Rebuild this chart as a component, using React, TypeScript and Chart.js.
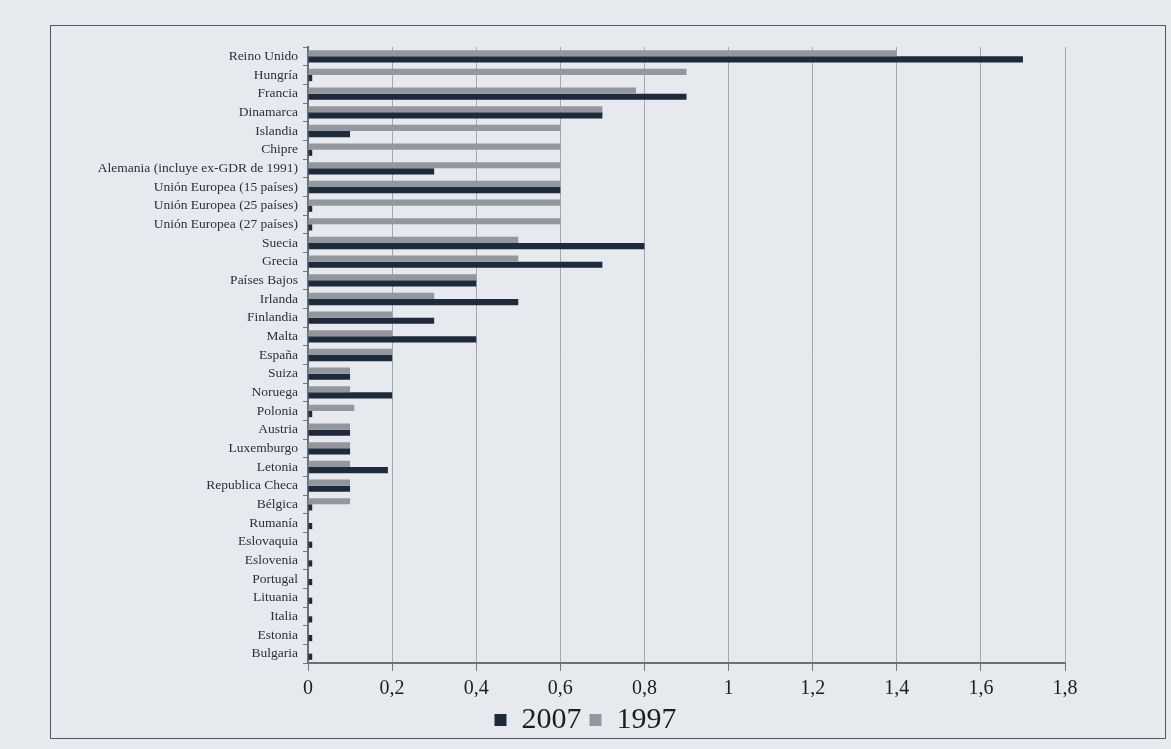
import React, { useEffect, useRef } from "react";
import { Chart, registerables } from "chart.js";

Chart.register(...registerables);

const categories = [
  "Reino Unido",
  "Hungría",
  "Francia",
  "Dinamarca",
  "Islandia",
  "Chipre",
  "Alemania (incluye ex-GDR de 1991)",
  "Unión Europea (15 países)",
  "Unión Europea (25 países)",
  "Unión Europea (27 países)",
  "Suecia",
  "Grecia",
  "Países Bajos",
  "Irlanda",
  "Finlandia",
  "Malta",
  "España",
  "Suiza",
  "Noruega",
  "Polonia",
  "Austria",
  "Luxemburgo",
  "Letonia",
  "Republica Checa",
  "Bélgica",
  "Rumanía",
  "Eslovaquia",
  "Eslovenia",
  "Portugal",
  "Lituania",
  "Italia",
  "Estonia",
  "Bulgaria",
];

const values2007 = [
  1.7, 0.01, 0.9, 0.7, 0.1, 0.01, 0.3, 0.6, 0.01, 0.01, 0.8, 0.7, 0.4, 0.5, 0.3,
  0.4, 0.2, 0.1, 0.2, 0.01, 0.1, 0.1, 0.19, 0.1, 0.01, 0.01, 0.01, 0.01, 0.01,
  0.01, 0.01, 0.01, 0.01,
];

const values1997 = [
  1.4, 0.9, 0.78, 0.7, 0.6, 0.6, 0.6, 0.6, 0.6, 0.6, 0.5, 0.5, 0.4, 0.3, 0.2,
  0.2, 0.2, 0.1, 0.1, 0.11, 0.1, 0.1, 0.1, 0.1, 0.1, 0, 0, 0, 0, 0, 0, 0, 0,
];

const xTickLabels = ["0", "0,2", "0,4", "0,6", "0,8", "1", "1,2", "1,4", "1,6", "1,8"];

const seriesNames = ["1997", "2007"];

const DARK = "#1d2b3c";
const GRAY = "#93979e";
const SERIF = "'Liberation Serif', 'DejaVu Serif', serif";

export default function App() {
  const ref = useRef<HTMLCanvasElement | null>(null);

  useEffect(() => {
    if (!ref.current) return;
    const chart = new Chart(ref.current, {
      type: "bar",
      data: {
        labels: categories,
        datasets: [
          {
            label: seriesNames[0],
            data: values1997,
            backgroundColor: GRAY,
            borderWidth: 0,
            categoryPercentage: 0.66,
            barPercentage: 1.0,
            yAxisID: "y",
          },
          {
            label: seriesNames[1],
            data: values2007,
            backgroundColor: DARK,
            borderWidth: 0,
            categoryPercentage: 0.66,
            barPercentage: 1.0,
            yAxisID: "y",
          },
        ],
      },
      options: {
        indexAxis: "y",
        responsive: false,
        animation: false,
        layout: { padding: { top: 47, right: 0, left: 0, bottom: 4 } },
        plugins: {
          tooltip: { enabled: false },
          legend: {
            position: "bottom",
            labels: {
              sort: (a: any, b: any) => b.datasetIndex - a.datasetIndex,
              boxWidth: 12,
              boxHeight: 12,
              padding: 8,
              color: "#1e1e22",
              font: { family: SERIF, size: 30 },
            },
          },
        },
        scales: {
          x: {
            type: "linear",
            min: 0,
            max: 1.8,
            ticks: {
              stepSize: 0.2,
              color: "#1e1e22",
              padding: 6,
              font: { family: SERIF, size: 20 },
              callback: (_v: any, i: number) => xTickLabels[i] ?? "",
            },
            grid: {
              color: "#a4a7ac",
              lineWidth: 1,
              tickLength: 8,
              tickColor: "#777",
            },
            border: { color: "#6c6f74", width: 2 },
            afterFit: (s: any) => {
              s.height = 34;
            },
          },
          y: {
            type: "category",
            position: "left",
            ticks: {
              color: "#2a3040",
              padding: 5,
              autoSkip: false,
              font: { family: SERIF, size: 13.5 },
            },
            grid: {
              drawOnChartArea: false,
              tickLength: 5,
              color: "#777",
            },
            border: { color: "#6c6f74", width: 2 },
            afterFit: (s: any) => {
              s.width = 308;
            },
          },
          yRightSpace: {
            type: "category",
            position: "right",
            display: true,
            ticks: { display: false },
            grid: { display: false, drawTicks: false },
            border: { display: false },
            afterFit: (s: any) => {
              s.width = 106;
            },
          },
        },
      },
    });
    return () => chart.destroy();
  }, []);

  return (
    <div
      style={{
        position: "absolute",
        left: 0,
        top: 0,
        width: 1171,
        height: 749,
        background: "#e6e9ee",
      }}
    >
      <canvas
        ref={ref}
        width={1171}
        height={749}
        style={{ position: "absolute", left: 0, top: 0, width: 1171, height: 749 }}
      />
      <div
        style={{
          position: "absolute",
          left: 50,
          top: 25,
          width: 1116,
          height: 714,
          border: "1.5px solid #55585e",
          boxSizing: "border-box",
          pointerEvents: "none",
        }}
      />
    </div>
  );
}
